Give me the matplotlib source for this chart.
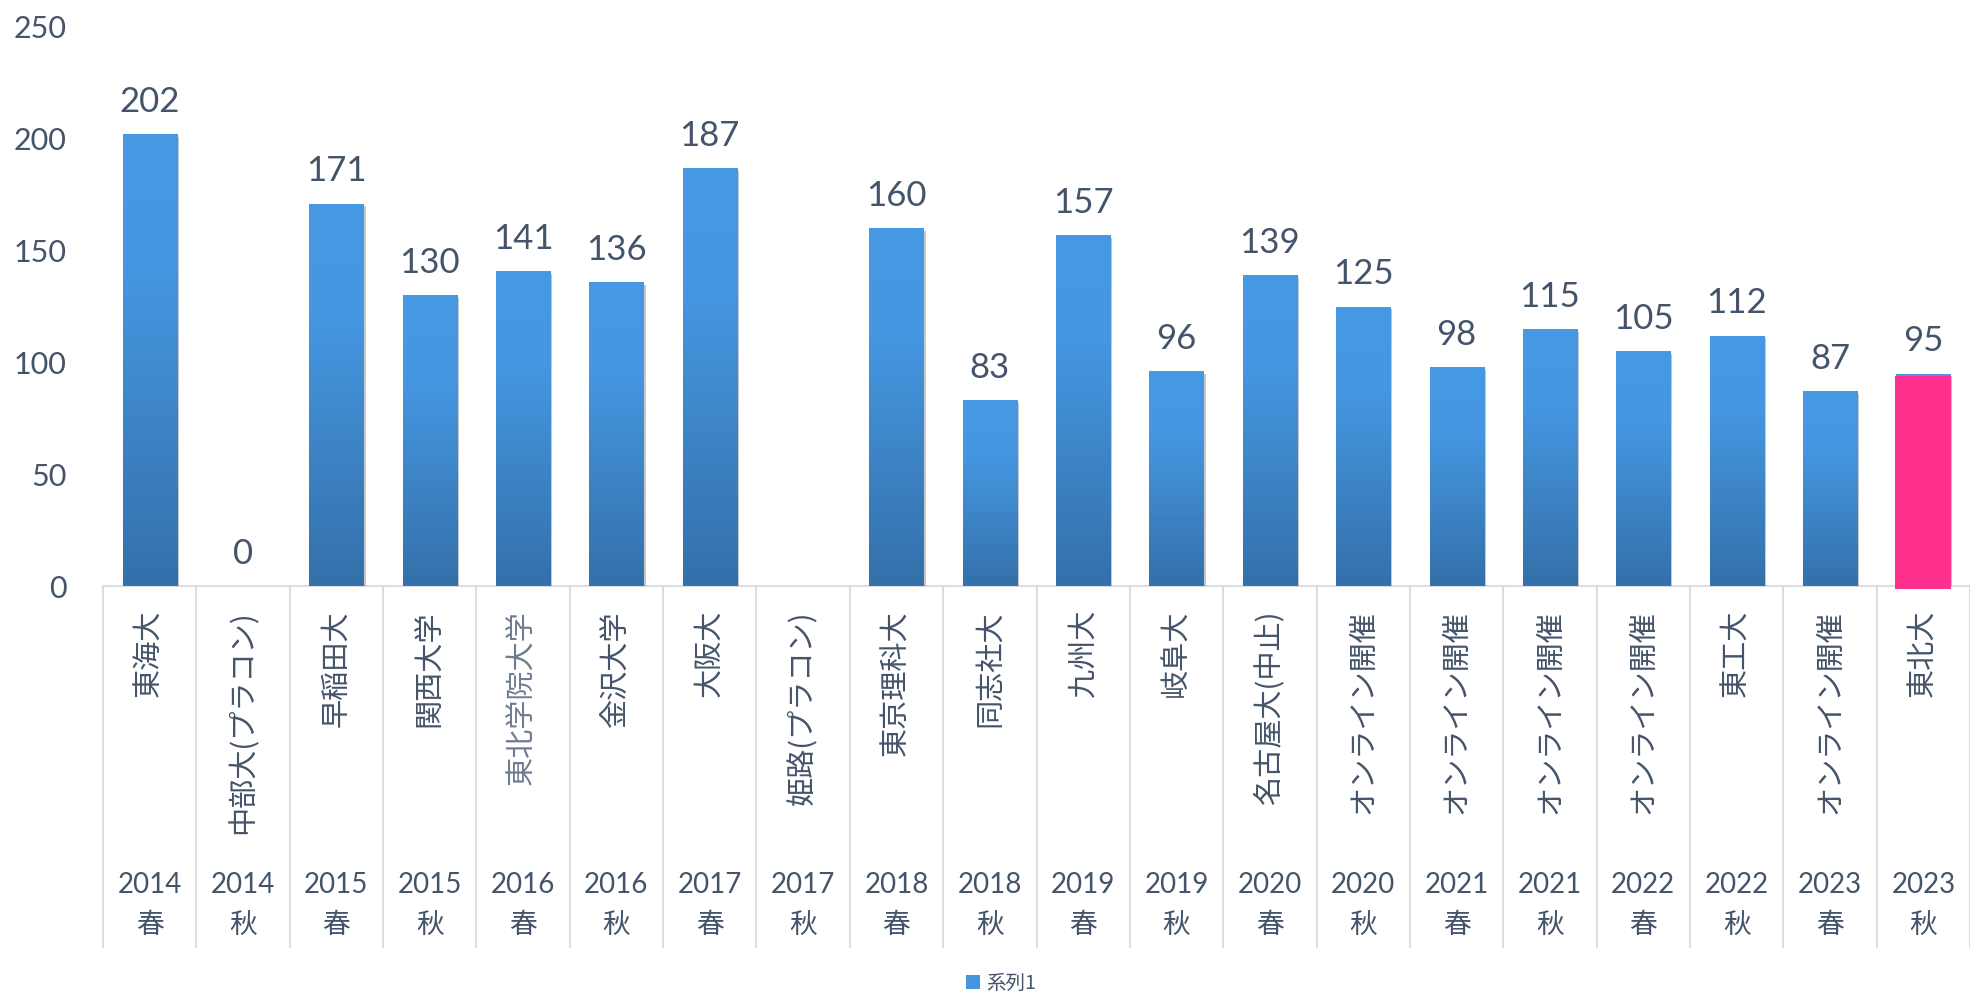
import numpy as np
import matplotlib
matplotlib.use('Agg')
import matplotlib.pyplot as plt
from matplotlib.colors import LinearSegmentedColormap
from matplotlib import patheffects as pe
from matplotlib.patches import Patch

plt.rcParams['font.family'] = ['Lato', 'Noto Sans CJK JP', 'DejaVu Sans']

# ---------------- data ----------------
names = ['東海大', '中部大(プラコン)', '早稲田大', '関西大学', '東北学院大学', '金沢大学',
         '大阪大', '姫路(プラコン)', '東京理科大', '同志社大', '九州大', '岐阜大',
         '名古屋大(中止)', 'オンライン開催', 'オンライン開催', 'オンライン開催',
         'オンライン開催', '東工大', 'オンライン開催', '東北大']
years = ['2014', '2014', '2015', '2015', '2016', '2016', '2017', '2017', '2018', '2018',
         '2019', '2019', '2020', '2020', '2021', '2021', '2022', '2022', '2023', '2023']
seasons = ['春', '秋', '春', '秋', '春', '秋', '春', '秋', '春', '秋',
           '春', '秋', '春', '秋', '春', '秋', '春', '秋', '春', '秋']
values = [202, 0, 171, 130, 141, 136, 187, None, 160, 83,
          157, 96, 139, 125, 98, 115, 105, 112, 87, 95]
y_ticks = [0, 50, 100, 150, 200, 250]
series_name = '系列1'
highlight_index = 19
light_label_index = 4

# ---------------- style ----------------
TXT = '#44546A'
GRID = '#D9DEE6'
PINK = '#FF2F8E'
W, H = 1970, 994

fig = plt.figure(figsize=(W / 100, H / 100), dpi=100)
ax = fig.add_axes([103 / W, (H - 586) / H, (W - 103) / W, (586 - 27) / H])

x = np.arange(len(values))
vals = np.array([np.nan if v is None else v for v in values], float)
heights = np.nan_to_num(vals)

bars = ax.bar(x, heights, width=0.58, color='#3A7DC0', zorder=2)
for b in bars:
    b.set_path_effects([pe.SimplePatchShadow(offset=(1.5, -2.0), shadow_rgbFace='k', alpha=0.22),
                        pe.Normal()])

cmap = LinearSegmentedColormap.from_list(
    'g', [(0.0, '#3470AA'), (0.7, '#4597E1'), (1.0, '#4699E3')])
grad = np.linspace(1, 0, 256)[:, None]
for b, h in zip(bars, heights):
    if h > 0:
        l = b.get_x()
        r = l + b.get_width()
        im = ax.imshow(grad, cmap=cmap, vmin=0, vmax=1, extent=(l, r, 0, h),
                       aspect='auto', zorder=2.5, interpolation='bicubic')
        im.set_clip_path(b)

# highlighted last bar
ax.bar(x[highlight_index], vals[highlight_index] - 0.9 + 1.3, bottom=-1.3, width=0.6,
       color=PINK, zorder=3, clip_on=False)

# value labels
for i, v in enumerate(vals):
    if not np.isnan(v):
        ax.annotate(f'{int(v)}', (i, v), xytext=(0, 16), textcoords='offset points',
                    ha='center', va='baseline', fontsize=25, color=TXT, zorder=4)

ax.set_xlim(-0.5, len(values) - 0.5)
ax.set_ylim(0, 250)
ax.set_yticks(y_ticks)
ax.set_xticks([])
ax.tick_params(axis='y', length=0, labelsize=22, pad=26, labelcolor=TXT)
for s in ['top', 'right', 'left']:
    ax.spines[s].set_visible(False)
ax.spines['bottom'].set_color(GRID)
ax.spines['bottom'].set_linewidth(1.5)
ax.spines['bottom'].set_zorder(1)

# multi-level category axis
tr = ax.get_xaxis_transform()
for k in range(len(values) + 1):
    ax.plot([k - 0.5, k - 0.5], [0, -0.646], transform=tr, clip_on=False,
            color=GRID, lw=1.5, zorder=1)
for i, (n, yv, s) in enumerate(zip(names, years, seasons)):
    col = '#6E7C90' if i == light_label_index else TXT
    ax.text(i, -0.043, n, transform=tr, rotation=90, ha='center', va='top',
            fontsize=21, color=col, family=['Noto Sans CJK JP', 'DejaVu Sans'])
    ax.text(i, -0.535, yv, transform=tr, ha='center', va='center',
            fontsize=20, color=TXT)
    ax.text(i, -0.606, s, transform=tr, ha='center', va='center',
            fontsize=20, color=TXT, family=['Noto Sans CJK JP', 'DejaVu Sans'])

fig.legend(handles=[Patch(facecolor='#4596E0')], labels=[series_name], loc='center',
           bbox_to_anchor=(1001 / W, 1 - 983 / H), frameon=False,
           handlelength=0.75, handleheight=0.75, handletextpad=0.3, labelcolor=TXT,
           prop={'family': ['Noto Sans CJK JP', 'DejaVu Sans'], 'size': 14})

fig.savefig('out.png', dpi=100)
